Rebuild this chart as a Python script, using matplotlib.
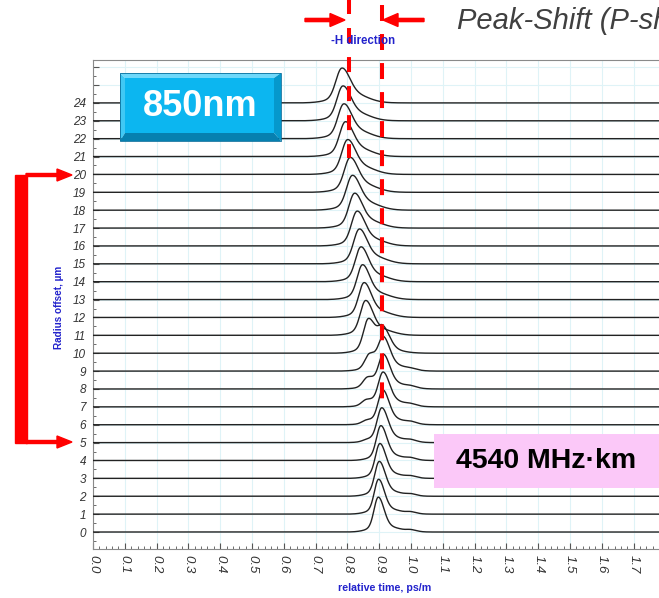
"""Differential mode delay traces (850 nm) with peak-shift annotations."""

import matplotlib
matplotlib.use("Agg")
import matplotlib.pyplot as plt
import matplotlib.transforms as mtransforms
import numpy as np
from matplotlib.patches import FancyArrow, Polygon, Rectangle

plt.rcParams["font.family"] = ["Liberation Sans", "DejaVu Sans"]
plt.rcParams["lines.scale_dashes"] = False

W, H = 659, 598

# Radius offsets (um) and pulse parameters
OFFSETS = list(range(25))
PEAK_TIME = [0.897, 0.898, 0.900, 0.902, 0.905, 0.908, 0.911, 0.912, 0.913, 0.913,
             0.866, 0.857, 0.852, 0.847, 0.842, 0.837, 0.830, 0.822, 0.815, 0.808,
             0.800, 0.793, 0.788, 0.785, 0.782]
PEAK_WIDTH = [0.013, 0.013, 0.0135, 0.0135, 0.0135, 0.014, 0.014, 0.0145, 0.0145, 0.0145,
              0.015, 0.016, 0.016, 0.016, 0.0165, 0.017, 0.017, 0.017, 0.0175, 0.0175,
              0.0175, 0.0175, 0.0175, 0.0175, 0.018]
SIDE_TIME = [0.0, 0.0, 0.0, 0.0, 0.0, 0.862, 0.860, 0.860, 0.864, 0.870,
             0.912, 0.0, 0.0, 0.0, 0.0, 0.0, 0.0, 0.0, 0.0, 0.0,
             0.0, 0.0, 0.0, 0.0, 0.0]
SIDE_AMP = [0.0, 0.0, 0.0, 0.0, 0.0, 0.05, 0.1, 0.18, 0.32, 0.5,
            0.66, 0.0, 0.0, 0.0, 0.0, 0.0, 0.0, 0.0, 0.0, 0.0,
            0.0, 0.0, 0.0, 0.0, 0.0]
TAIL_AMP = [0.08, 0.08, 0.08, 0.08, 0.09, 0.09, 0.10, 0.10, 0.10, 0.11,
            0.06, 0.14, 0.15, 0.16, 0.17, 0.18, 0.18, 0.19, 0.19, 0.2,
            0.2, 0.2, 0.2, 0.2, 0.2]
BUMP_AMP = [0.05, 0.05, 0.05, 0.05, 0.05, 0.05, 0.05, 0.04, 0.04, 0.03,
            0.0, 0.0, 0.0, 0.0, 0.0, 0.0, 0.0, 0.0, 0.0, 0.0,
            0.0, 0.0, 0.0, 0.0, 0.0]
PEAK_HEIGHT = 1.95
SKIRT_AMP = 0.15

# Peak-shift markers (relative time, ps/m)
SHIFT_LEFT = 0.806
SHIFT_RIGHT = 0.908

RED = "#ff0000"
BLUE = "#2222cc"


def pulse(t, t0, s, skew=1.35):
    """Asymmetric gaussian pulse, slower on the trailing side."""
    sig = np.where(t < t0, s, s * skew)
    return np.exp(-0.5 * ((t - t0) / sig) ** 2)


def main():
    fig = plt.figure(figsize=(W / 100, H / 100), dpi=100)
    px = mtransforms.Affine2D().scale(1 / W, -1 / H).translate(0, 1) + fig.transFigure

    ax = fig.add_axes([93 / W, 49 / H, 636 / W, (549 - 60) / H])
    ax.set_xlim(0, 2.0)
    ax.set_ylim(-0.95, 26.4)

    # Traces
    t = np.linspace(0, 2.0, 3000)
    for k in OFFSETS:
        s = PEAK_WIDTH[k]
        y = pulse(t, PEAK_TIME[k], s) + SKIRT_AMP * pulse(t, PEAK_TIME[k], 2.5 * s)
        if SIDE_AMP[k]:
            y = y + SIDE_AMP[k] * (pulse(t, SIDE_TIME[k], s)
                                   + SKIRT_AMP * pulse(t, SIDE_TIME[k], 2.5 * s))
        y = y + TAIL_AMP[k] * pulse(t, PEAK_TIME[k] + 0.045, 0.04, 1.0)
        y = y + BUMP_AMP[k] * pulse(t, 1.0, 0.013)
        y = y / y.max() * PEAK_HEIGHT
        ax.plot(t, k + y, color="#222222", lw=1.0, zorder=3)

    # Axes styling
    ax.set_xticks(np.arange(0, 2.01, 0.1))
    ax.set_xticks(np.arange(0, 2.01, 0.02), minor=True)
    ax.set_xticklabels([f"{v:.1f}" if v < 1.75 else "" for v in np.arange(0, 2.01, 0.1)],
                       rotation=270, style="italic", fontsize=9.5, color="#333333")
    ax.set_yticks(range(27))
    ax.set_yticklabels([str(k) if k <= 24 else "" for k in range(27)],
                       style="italic", fontsize=8.5, color="#333333")
    ax.set_yticks(np.arange(-0.5, 26.5, 0.5), minor=True)
    ax.tick_params(which="major", direction="in", length=4, width=0.8, color="#555555", pad=4)
    ax.tick_params(which="minor", direction="in", length=2.5, width=0.6, color="#555555")
    ax.tick_params(axis="y", pad=5)
    ax.grid(True, which="major", color="#dff3f7", lw=0.8, zorder=0)
    for side in ["left", "top", "bottom", "right"]:
        ax.spines[side].set_color("#8a8a8a")

    fig.text(385 / W, 1 - 588 / H, "relative time, ps/m", color=BLUE, fontsize=7.7,
             fontweight="bold", ha="center", va="center")
    fig.text(59 / W, 1 - 307 / H, "Radius offset, \u00b5m", color=BLUE, fontsize=7.2,
             fontweight="bold", ha="center", va="center", rotation=90)

    # Red dashed peak-shift lines (drawn from the top down)
    ax.plot([SHIFT_LEFT, SHIFT_LEFT], [30.0, 20.9], color=RED, lw=2.9,
            dashes=(10.8, 10.1), clip_on=False, zorder=6)
    ax.plot([SHIFT_RIGHT, SHIFT_RIGHT], [29.45, 7.0], color=RED, lw=2.9,
            dashes=(11.5, 9.4), clip_on=False, zorder=6)

    # Top arrows and labels
    fig.add_artist(FancyArrow(305, 20, 40, 0, width=3.2, head_width=13, head_length=15,
                              length_includes_head=True, color=RED, transform=px, zorder=7))
    fig.add_artist(FancyArrow(424, 20, -41, 0, width=3.2, head_width=13, head_length=15,
                              length_includes_head=True, color=RED, transform=px, zorder=7))
    fig.text(363 / W, 1 - 41 / H, "-H direction", color=BLUE, fontsize=8.3,
             fontweight="bold", ha="center", va="center")
    fig.text(457 / W, 1 - 21 / H, "Peak-Shift (P-shift)", color="#404040", fontsize=21,
             style="italic", ha="left", va="center")

    # Left bracket marking offsets 5..20
    fig.add_artist(Rectangle((15, 175), 12, 268, color=RED, transform=px, zorder=7))
    for yy in (175, 442):
        fig.add_artist(FancyArrow(26, yy, 46, 0, width=3, head_width=12, head_length=15,
                                  length_includes_head=True, color=RED, transform=px,
                                  zorder=7))

    # Bevelled "850nm" box
    x0, y0, x1, y1 = 120, 73, 281, 141
    bl, bt, br, bb = 5, 5, 7, 8
    faces = [
        ([(x0, y0), (x1, y0), (x1 - br, y0 + bt), (x0 + bl, y0 + bt)], "#6fd8fa"),
        ([(x0, y0), (x0 + bl, y0 + bt), (x0 + bl, y1 - bb), (x0, y1)], "#40c8f4"),
        ([(x1, y0), (x1, y1), (x1 - br, y1 - bb), (x1 - br, y0 + bt)], "#0598cc"),
        ([(x0, y1), (x0 + bl, y1 - bb), (x1 - br, y1 - bb), (x1, y1)], "#0680b0"),
    ]
    fig.add_artist(Rectangle((x0 + bl, y0 + bt), x1 - x0 - bl - br, y1 - y0 - bt - bb,
                             facecolor="#0cb6f0", edgecolor="none", transform=px, zorder=8))
    for pts, col in faces:
        fig.add_artist(Polygon(pts, closed=True, facecolor=col, edgecolor="none",
                               transform=px, zorder=8))
    fig.add_artist(Rectangle((x0, y0), x1 - x0, y1 - y0, facecolor="none",
                             edgecolor="#0a6f9c", lw=0.6, transform=px, zorder=8))
    fig.text((x0 + x1) / 2 / W, 1 - 107 / H, "850nm", color="white", fontsize=26,
             fontweight="bold", ha="center", va="center", zorder=9)

    # Bandwidth box
    fig.add_artist(Rectangle((434, 434), 240, 54, facecolor="#fbc8f8", edgecolor="none",
                             transform=px, zorder=8))
    fig.text(546 / W, 1 - 461 / H, "4540 MHz\u00b7km", color="black", fontsize=20.5,
             fontweight="bold", ha="center", va="center", zorder=9)

    fig.savefig("out.png", dpi=100)


if __name__ == "__main__":
    main()
